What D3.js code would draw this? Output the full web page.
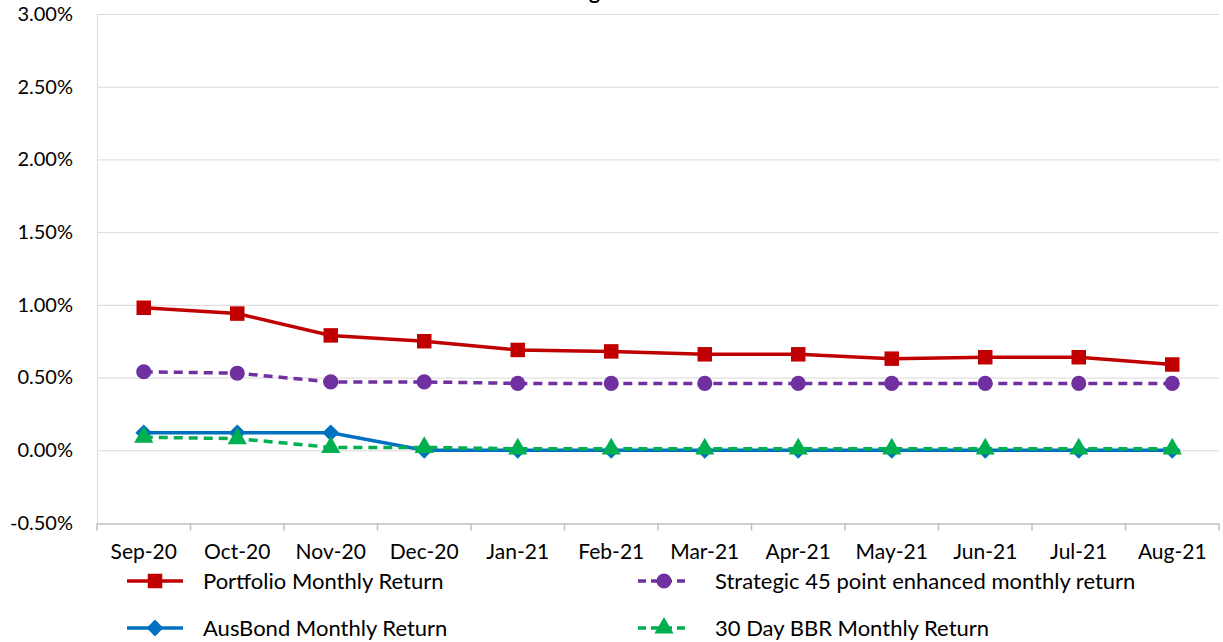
<!DOCTYPE html>
<html lang="en">
<head>
    <meta charset="UTF-8">
    <title>Monthly Returns</title>
    <style>
        body {
            margin: 0;
            background: #fff;
            font-family: Lato, "Open Sans", sans-serif;
        }
        .grid line {
            stroke: #d9d9d9;
            stroke-width: 1;
        }
        .tick text {
            fill: #000;
        }
    </style>
</head>
<body>
    <svg id="chart" width="1223" height="642"></svg>
    <script src="https://d3js.org/d3.v7.min.js"></script>
    <script>
        // Data
        const months = ["Sep-20", "Oct-20", "Nov-20", "Dec-20", "Jan-21", "Feb-21",
                        "Mar-21", "Apr-21", "May-21", "Jun-21", "Jul-21", "Aug-21"];
        const portfolio = [0.98, 0.94, 0.79, 0.75, 0.69, 0.68, 0.66, 0.66, 0.63, 0.64, 0.64, 0.59];
        const strategic = [0.54, 0.53, 0.47, 0.47, 0.46, 0.46, 0.46, 0.46, 0.46, 0.46, 0.46, 0.46];
        const ausbond = [0.12, 0.12, 0.12, 0.00, 0.00, 0.00, 0.00, 0.00, 0.00, 0.00, 0.00, 0.00];
        const bbr = [0.09, 0.08, 0.02, 0.02, 0.01, 0.01, 0.01, 0.01, 0.01, 0.01, 0.01, 0.01];
        const yTicks = [-0.5, 0, 0.5, 1, 1.5, 2, 2.5, 3];
        const chartTitle = "Figure 3";

        const series = [
            { name: "Portfolio Monthly Return", values: portfolio, color: "#C00000", dash: null, symbol: d3.symbolSquare, size: 210 },
            { name: "Strategic 45 point enhanced monthly return", values: strategic, color: "#7030A0", dash: "9,6", symbol: d3.symbolCircle, size: 180 },
            { name: "AusBond Monthly Return", values: ausbond, color: "#0070C0", dash: null, symbol: d3.symbolDiamond2, size: 180 },
            { name: "30 Day BBR Monthly Return", values: bbr, color: "#00B050", dash: "9,6", symbol: d3.symbolTriangle, size: 160 }
        ];

        const margin = { top: 14, right: 4, bottom: 119, left: 97 };
        const width = 1223, height = 642;

        const svg = d3.select("#chart");

        const x = d3.scaleBand()
            .domain(months)
            .range([margin.left, width - margin.right]);

        const y = d3.scaleLinear()
            .domain([-0.5, 3])
            .range([height - margin.bottom, margin.top]);

        // title, mostly cut off above the visible area (as in the source image)
        svg.append("text")
            .attr("x", 610)
            .attr("y", -1)
            .attr("text-anchor", "middle")
            .attr("font-size", 21)
            .attr("font-weight", "bold")
            .text(chartTitle);

        // horizontal gridlines
        svg.append("g")
            .attr("class", "grid")
            .selectAll("line")
            .data(yTicks.slice(1))
            .join("line")
            .attr("x1", margin.left)
            .attr("x2", width - margin.right)
            .attr("y1", d => y(d) + 0.5)
            .attr("y2", d => y(d) + 0.5);

        // y axis
        const yAxis = svg.append("g")
            .attr("transform", `translate(${margin.left},0)`)
            .call(d3.axisLeft(y).tickValues(yTicks).tickFormat(d => d.toFixed(2) + "%").tickSize(0).tickPadding(24));
        yAxis.select(".domain").attr("stroke", "#d9d9d9");
        yAxis.selectAll("text").attr("font-size", 20).attr("font-family", "Lato, sans-serif");

        // x axis with tick marks on band boundaries
        const xAxis = svg.append("g")
            .attr("transform", `translate(0,${y(-0.5) + 0.5})`)
            .call(d3.axisBottom(x).tickSize(0).tickPadding(21));
        xAxis.select(".domain").attr("stroke", "#bfbfbf").attr("stroke-width", 1.5);
        xAxis.selectAll("text").attr("font-size", 21).attr("font-family", "Lato, sans-serif");
        xAxis.selectAll(".bound")
            .data(months.concat(["end"]))
            .join("line")
            .attr("class", "bound")
            .attr("stroke", "#bfbfbf")
            .attr("stroke-width", 1.5)
            .attr("x1", (d, i) => i < months.length ? x(d) : x.range()[1])
            .attr("x2", (d, i) => i < months.length ? x(d) : x.range()[1])
            .attr("y1", 0)
            .attr("y2", 7);

        const cx = m => x(m) + x.bandwidth() / 2;

        const line = d3.line()
            .x((d, i) => cx(months[i]))
            .y(d => y(d));

        series.forEach(s => {
            svg.append("path")
                .datum(s.values)
                .attr("fill", "none")
                .attr("stroke", s.color)
                .attr("stroke-width", 3.5)
                .attr("stroke-dasharray", s.dash)
                .attr("d", line);

            svg.append("g")
                .selectAll("path")
                .data(s.values)
                .join("path")
                .attr("transform", (d, i) => `translate(${cx(months[i])},${y(d)})`)
                .attr("fill", s.color)
                .attr("d", d3.symbol().type(s.symbol).size(s.size));
        });

        // legend
        const legendPos = [
            { x: 127, y: 581 },
            { x: 638, y: 581 },
            { x: 127, y: 628 },
            { x: 638, y: 628 }
        ];

        series.forEach((s, i) => {
            const p = legendPos[i];
            const g = svg.append("g").attr("transform", `translate(${p.x},${p.y})`);
            const len = i % 2 === 0 ? 56 : 52;
            g.append("line")
                .attr("x1", 0).attr("x2", len)
                .attr("y1", 0).attr("y2", 0)
                .attr("stroke", s.color)
                .attr("stroke-width", 3.5)
                .attr("stroke-dasharray", s.dash ? "8,5" : null);
            g.append("path")
                .attr("transform", `translate(${len / 2},0)`)
                .attr("fill", s.color)
                .attr("d", d3.symbol().type(s.symbol).size(s.size));
            g.append("text")
                .attr("x", len + (i % 2 === 0 ? 20 : 25))
                .attr("y", 8)
                .attr("font-size", 22)
                .attr("font-family", "Lato, sans-serif")
                .text(s.name);
        });
    </script>
</body>
</html>
